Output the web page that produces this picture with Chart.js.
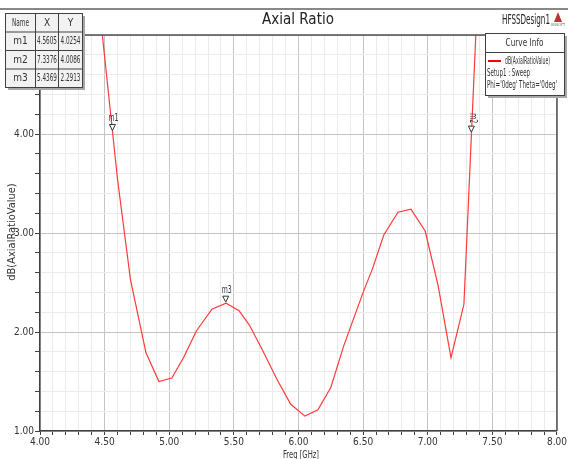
<!DOCTYPE html>
<html>
<head>
<meta charset="utf-8">
<script src="https://cdn.jsdelivr.net/npm/chart.js@4/dist/chart.umd.min.js"></script>
<style>
  html, body { margin: 0; padding: 0; background: #fff; }
  #ar-chart { display: block; }
</style>
</head>
<body>
<canvas id="ar-chart" width="568" height="459"></canvas>
<script>
// curve data (GHz / dB)
const freq = [4.40, 4.60, 4.70, 4.82, 4.92, 5.02, 5.11, 5.21, 5.33, 5.44, 5.54, 5.62, 5.72, 5.83, 5.94,
              6.05, 6.15, 6.25, 6.35, 6.50, 6.57, 6.66, 6.77, 6.87, 6.98, 7.08, 7.18, 7.28, 7.40];
const axialRatio = [6.02, 3.54, 2.53, 1.79, 1.50, 1.535, 1.74, 2.01, 2.23, 2.29, 2.215, 2.07, 1.82, 1.53, 1.27,
                    1.15, 1.215, 1.44, 1.86, 2.40, 2.63, 2.98, 3.21, 3.24, 3.02, 2.47, 1.74, 2.28, 5.83];

// marker table
const markerNames = ['m1', 'm2', 'm3'];
const markerX = [4.5605, 7.3376, 5.4369];
const markerY = [4.0254, 4.0086, 2.2913];
const markerVertical = [false, true, false]; // m2 label is drawn sideways on the steep part

// axis labels
const xTickLabels = ['4.00', '4.50', '5.00', '5.50', '6.00', '6.50', '7.00', '7.50', '8.00'];
const yTickLabels = ['1.00', '2.00', '3.00', '4.00'];

const FONT = "'Liberation Sans Narrow', 'DejaVu Sans Condensed', 'Liberation Sans', Arial, sans-serif";

function isMajor(v, step) {
    return Math.abs(v / step - Math.round(v / step)) < 1e-6;
}

function fmt(v) {
    return v.toFixed(2);
}

// draws everything HFSS puts around the plot: title, marker table, curve info, markers
const hfssDecor = {
    id: 'hfssDecor',
    afterDraw(chart) {
        const ctx = chart.ctx;
        const xs = chart.scales.x;
        const ys = chart.scales.y;
        const area = chart.chartArea;
        ctx.save();

        // top frame line
        ctx.strokeStyle = '#606060';
        ctx.lineWidth = 1.5;
        ctx.beginPath();
        ctx.moveTo(0, 9);
        ctx.lineTo(568, 9);
        ctx.stroke();

        // plot frame top + right
        ctx.strokeStyle = '#505050';
        ctx.lineWidth = 1.5;
        ctx.beginPath();
        ctx.moveTo(area.left, area.top);
        ctx.lineTo(area.right, area.top);
        ctx.lineTo(area.right, area.bottom);
        ctx.stroke();

        // title
        ctx.fillStyle = '#222';
        ctx.font = '15px ' + FONT;
        ctx.textAlign = 'center';
        ctx.textBaseline = 'middle';
        ctx.fillText('Axial Ratio', 298, 20);

        ctx.font = '14px ' + FONT;
        ctx.textAlign = 'right';
        ctx.fillText('HFSSDesign1', 550, 20, 48);

        // little ansoft logo
        ctx.fillStyle = '#c03030';
        ctx.beginPath();
        ctx.moveTo(558, 12);
        ctx.lineTo(562, 22);
        ctx.lineTo(554, 22);
        ctx.closePath();
        ctx.fill();
        ctx.fillStyle = '#777';
        ctx.font = '4px ' + FONT;
        ctx.textAlign = 'center';
        ctx.fillText('ANSOFT', 558, 25);

        // axis titles
        ctx.fillStyle = '#333';
        ctx.font = '11px ' + FONT;
        ctx.textAlign = 'center';
        ctx.fillText('Freq [GHz]', 301, 455, 36);
        ctx.save();
        ctx.translate(12, 232);
        ctx.rotate(-Math.PI / 2);
        ctx.fillText('dB(AxialRatioValue)', 0, 0, 100);
        ctx.restore();

        // markers on the curve
        ctx.strokeStyle = '#333';
        ctx.lineWidth = 1;
        for (let i = 0; i < markerNames.length; i++) {
            const px = xs.getPixelForValue(markerX[i]);
            const py = ys.getPixelForValue(markerY[i]);
            ctx.fillStyle = '#fff';
            ctx.beginPath();
            ctx.moveTo(px, py - 1);
            ctx.lineTo(px - 3, py - 7);
            ctx.lineTo(px + 3, py - 7);
            ctx.closePath();
            ctx.fill();
            ctx.stroke();
            ctx.fillStyle = '#333';
            ctx.font = '10px ' + FONT;
            ctx.textAlign = 'center';
            if (markerVertical[i]) {
                ctx.save();
                ctx.translate(px + 1, py - 15);
                ctx.rotate(Math.PI / 2);
                ctx.fillText(markerNames[i], 0, 0, 10);
                ctx.restore();
            } else {
                ctx.fillText(markerNames[i], px + 1, py - 13, 10);
            }
        }

        // marker table (top left)
        const colX = [5, 35, 58, 82];
        const rowY = [13, 31.5, 50, 68.5, 87];
        ctx.fillStyle = '#a8a8a8';
        ctx.fillRect(colX[0] + 3, rowY[0] + 3, colX[3] - colX[0], rowY[4] - rowY[0]);
        ctx.fillStyle = '#f2f2f2';
        ctx.fillRect(colX[0], rowY[0], colX[3] - colX[0], rowY[4] - rowY[0]);
        ctx.strokeStyle = '#404040';
        ctx.lineWidth = 1;
        ctx.strokeRect(colX[0] + 0.5, rowY[0] + 0.5, colX[3] - colX[0], rowY[4] - rowY[0]);
        ctx.beginPath();
        for (let c = 1; c < 3; c++) {
            ctx.moveTo(colX[c] + 0.5, rowY[0]);
            ctx.lineTo(colX[c] + 0.5, rowY[4]);
        }
        for (let r = 1; r < 4; r++) {
            ctx.moveTo(colX[0], rowY[r] + 0.5);
            ctx.lineTo(colX[3], rowY[r] + 0.5);
        }
        ctx.stroke();
        ctx.fillStyle = '#333';
        ctx.font = '10px ' + FONT;
        ctx.textAlign = 'center';
        const header = ['Name', 'X', 'Y'];
        const cellMax = [17, 20, 20];
        for (let c = 0; c < 3; c++) {
            ctx.fillText(header[c], (colX[c] + colX[c + 1]) / 2 + 0.5, (rowY[0] + rowY[1]) / 2 + 1, cellMax[c]);
        }
        for (let r = 0; r < markerNames.length; r++) {
            const cy = (rowY[r + 1] + rowY[r + 2]) / 2 + 1;
            ctx.fillText(markerNames[r], (colX[0] + colX[1]) / 2 + 0.5, cy, cellMax[0]);
            ctx.fillText(markerX[r].toFixed(4), (colX[1] + colX[2]) / 2 + 0.5, cy, cellMax[1]);
            ctx.fillText(markerY[r].toFixed(4), (colX[2] + colX[3]) / 2 + 0.5, cy, cellMax[2]);
        }

        // curve info box (top right)
        const bx = 485, by = 33, bw = 79, bh = 62;
        ctx.fillStyle = '#a8a8a8';
        ctx.fillRect(bx + 3, by + 3, bw, bh);
        ctx.fillStyle = '#fff';
        ctx.fillRect(bx, by, bw, bh);
        ctx.strokeStyle = '#404040';
        ctx.strokeRect(bx + 0.5, by + 0.5, bw, bh);
        ctx.beginPath();
        ctx.moveTo(bx, by + 19.5);
        ctx.lineTo(bx + bw, by + 19.5);
        ctx.stroke();
        ctx.fillStyle = '#333';
        ctx.font = '10px ' + FONT;
        ctx.textAlign = 'center';
        ctx.fillText('Curve Info', bx + bw / 2, by + 10, 38);
        ctx.strokeStyle = '#ff0000';
        ctx.lineWidth = 2;
        ctx.beginPath();
        ctx.moveTo(488, 61);
        ctx.lineTo(501, 61);
        ctx.stroke();
        ctx.textAlign = 'left';
        ctx.font = '10px ' + FONT;
        ctx.fillText('dB(AxialRatioValue)', 505, 61, 45);
        ctx.fillText('Setup1 : Sweep', 487, 73, 43);
        ctx.fillText("Phi='0deg' Theta='0deg'", 487, 85, 70);

        ctx.restore();
    }
};

const arChart = new Chart(document.getElementById('ar-chart').getContext('2d'), {
    type: 'line',
    data: {
        datasets: [{
            label: 'dB(AxialRatioValue)',
            data: freq.map((f, i) => ({ x: f, y: axialRatio[i] })),
            borderColor: '#ff3a3a',
            borderWidth: 1.2,
            pointRadius: 0,
            tension: 0,
            fill: false
        }]
    },
    options: {
        responsive: false,
        animation: false,
        devicePixelRatio: 1,
        layout: { padding: { left: 0, right: 6, top: 35, bottom: 0 } },
        plugins: {
            legend: { display: false },
            tooltip: { enabled: false }
        },
        scales: {
            x: {
                type: 'linear',
                min: 4,
                max: 8,
                afterFit: (scale) => { scale.height = 28; },
                ticks: {
                    stepSize: 0.1,
                    autoSkip: false,
                    maxRotation: 0,
                    padding: 1,
                    color: '#333',
                    font: { family: FONT, size: 10 },
                    callback: (value) => {
                        const s = fmt(value);
                        return isMajor(value, 0.5) && xTickLabels.includes(s) ? s : '';
                    }
                },
                grid: {
                    tickLength: 4,
                    tickColor: '#404040',
                    color: (c) => isMajor(c.tick.value, 0.5) ? '#c4c4c4' : '#ebebeb',
                    lineWidth: 1
                },
                border: { color: '#404040', width: 1.5 }
            },
            y: {
                min: 1,
                max: 5,
                afterFit: (scale) => { scale.width = 40; },
                ticks: {
                    stepSize: 0.2,
                    autoSkip: false,
                    padding: 1,
                    color: '#333',
                    font: { family: FONT, size: 10 },
                    callback: (value) => {
                        const s = fmt(value);
                        return isMajor(value, 1) && yTickLabels.includes(s) ? s : '';
                    }
                },
                grid: {
                    tickLength: 5,
                    tickColor: '#404040',
                    color: (c) => isMajor(c.tick.value, 1) ? '#c4c4c4' : '#ebebeb',
                    lineWidth: 1
                },
                border: { color: '#404040', width: 1.5 }
            }
        }
    },
    plugins: [hfssDecor]
});
</script>
</body>
</html>
